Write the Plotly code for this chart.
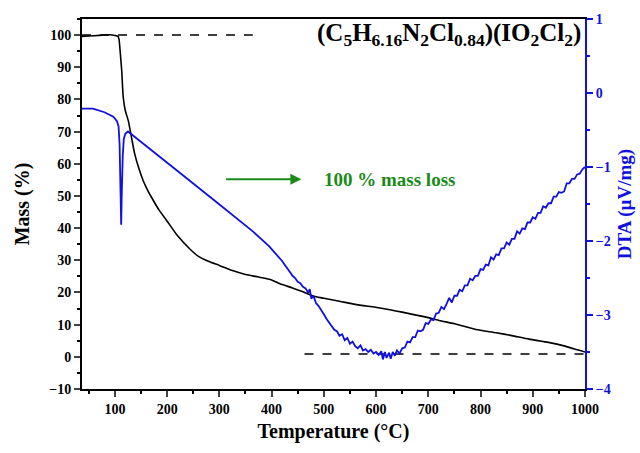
import plotly.graph_objects as go

# ---------------- data ----------------
temp_mass = [37, 50, 70, 90, 100, 106, 108, 110, 113, 116, 120, 125.6, 132, 138, 146, 154, 162,
             170, 185, 199, 220, 243, 260, 280, 300, 325, 350, 375, 400, 415, 440, 460, 479, 500,
             530, 560, 607, 650, 702, 721, 750, 791, 830, 860, 893, 930, 960, 980, 1000]
mass = [99.6, 99.7, 99.9, 100.1, 99.9, 99.6, 98.5, 95, 89, 80.6, 76.5, 73.4, 68, 63, 58.5, 54.8, 52,
        49.6, 45.5, 42.4, 37.6, 33.6, 31.2, 29.6, 28.4, 26.8, 25.6, 24.8, 23.9, 22.8, 21.4, 20.2, 18.9, 18.2,
        17.3, 16.3, 15.2, 13.9, 12.1, 11.3, 10.3, 8.5, 7.5, 6.6, 5.5, 4.5, 3.4, 2.4, 1.5]

temp_dta = [37, 58, 80, 97, 104, 107, 109, 110.5, 112, 113, 113.5, 114, 115, 117, 120, 125, 160,
            223, 299, 364, 395, 420, 435,
            440, 445, 450, 455, 460, 465, 470, 473, 476, 480, 485, 490, 495, 500, 505, 510, 515, 520,
            525, 530, 535, 540, 545, 550, 555, 560, 565, 570, 575, 580, 585, 590, 595, 600, 605, 610,
            613, 617, 620, 625, 628, 632, 636, 640, 645,
            650, 655, 660, 665, 670, 675, 680, 685, 690, 695, 700, 705, 710, 715, 720, 725, 730, 735,
            740, 745, 750, 755, 760, 765, 770, 775, 780, 785, 790, 795, 800, 805, 810, 815, 820, 825,
            830, 835, 840, 845, 850, 855, 860, 865, 870, 875, 880, 885, 890, 895, 900, 905, 910, 915,
            920, 925, 930, 935, 940, 945, 950, 955, 960, 965, 970, 975, 980, 985, 990, 995, 1000]
dta = [-0.21, -0.21, -0.26, -0.32, -0.38, -0.45, -0.7, -1.3, -1.78, -1.4, -1.1, -1.25, -0.85, -0.62,
       -0.55, -0.52, -0.72, -1.07, -1.50, -1.87, -2.07, -2.27, -2.42,
       -2.47, -2.50, -2.55, -2.57, -2.62, -2.64, -2.70, -2.65, -2.78, -2.74, -2.84, -2.88, -2.93, -2.99,
       -3.05, -3.10, -3.14, -3.20, -3.22, -3.28, -3.26, -3.34, -3.31, -3.39, -3.36, -3.42, -3.45, -3.41,
       -3.48, -3.46, -3.50, -3.47, -3.52, -3.50, -3.54, -3.49, -3.60, -3.50, -3.58, -3.51, -3.59, -3.50,
       -3.55, -3.48, -3.52,
       -3.45, -3.44, -3.36, -3.37, -3.30, -3.30, -3.21, -3.22, -3.20, -3.11, -3.12, -3.06, -3.07, -2.98,
       -2.97, -2.89, -2.92, -2.85, -2.77, -2.83, -2.74, -2.74, -2.66, -2.68, -2.60, -2.60, -2.51, -2.53,
       -2.47, -2.47, -2.38, -2.39, -2.32, -2.33, -2.22, -2.25, -2.18, -2.19, -2.10, -2.10, -2.02, -2.05,
       -1.97, -1.97, -1.87, -1.90, -1.83, -1.84, -1.75, -1.75, -1.68, -1.70, -1.62, -1.62, -1.53, -1.55,
       -1.49, -1.49, -1.40, -1.40, -1.34, -1.35, -1.33, -1.22, -1.22, -1.16, -1.16, -1.10, -1.09, -1.03,
       -1.00]

dash_top_x = [37, 364]
dash_top_y = [100, 100]
dash_bottom_x = [463, 1000]
dash_bottom_y = [0.9, 0.9]

x_ticks = [100, 200, 300, 400, 500, 600, 700, 800, 900, 1000]
mass_ticks = [-10, 0, 10, 20, 30, 40, 50, 60, 70, 80, 90, 100]
dta_ticks = [-4, -3, -2, -1, 0, 1]

formula = "<b>(C<sub>5</sub>H<sub>6.16</sub>N<sub>2</sub>Cl<sub>0.84</sub>)(IO<sub>2</sub>Cl<sub>2</sub>)</b>"
loss_text = "<b>100 % mass loss</b>"

# ---------------- figure ----------------
SERIF = "Liberation Serif, Times New Roman, serif"
BLUE = "#1010e0"
GREEN = "#1a8a1a"

fig = go.Figure()
fig.add_trace(go.Scatter(x=dash_top_x, y=dash_top_y, mode="lines",
                         line=dict(color="black", width=1.5, dash="dash"), showlegend=False))
fig.add_trace(go.Scatter(x=dash_bottom_x, y=dash_bottom_y, mode="lines",
                         line=dict(color="black", width=1.5, dash="dash"), showlegend=False))
fig.add_trace(go.Scatter(x=temp_mass, y=mass, mode="lines",
                         line=dict(color="black", width=1.6, shape="spline", smoothing=0.6),
                         showlegend=False))
fig.add_trace(go.Scatter(x=temp_dta, y=dta, mode="lines", yaxis="y2",
                         line=dict(color=BLUE, width=1.8), showlegend=False))

tickfont = dict(family=SERIF, size=14, color="black", weight="bold")

fig.update_layout(
    width=640, height=453,
    margin=dict(l=82, r=55, t=19, b=64, autoexpand=False),
    paper_bgcolor="white", plot_bgcolor="white",
    xaxis=dict(range=[37, 1000], tickvals=x_ticks, ticks="outside", ticklen=6, tickwidth=1.5,
               showline=True, linecolor="black", linewidth=2, mirror=True, showgrid=False,
               zeroline=False, tickfont=tickfont,
               minor=dict(dtick=50, tick0=0, ticks="outside", ticklen=3, tickwidth=1.5, tickcolor="black"),
               title=dict(text="<b>Temperature (°C)</b>", font=dict(family=SERIF, size=20, color="black"),
                          standoff=8)),
    yaxis=dict(range=[-10, 105], tickvals=mass_ticks, ticks="outside", ticklen=6, tickwidth=1.5,
               showline=True, linecolor="black", linewidth=2, showgrid=False, zeroline=False,
               tickfont=tickfont,
               minor=dict(dtick=5, tick0=0, ticks="outside", ticklen=3, tickwidth=1.5, tickcolor="black"),
               title=dict(text="<b>Mass (%)</b>", font=dict(family=SERIF, size=20, color="black"),
                          standoff=14)),
    yaxis2=dict(range=[-4, 1], overlaying="y", side="right", tickvals=dta_ticks, ticks="outside",
                ticklen=6, tickwidth=1.5, tickcolor=BLUE,
                showline=True, linecolor=BLUE, linewidth=2, showgrid=False, zeroline=False,
                tickfont=dict(family=SERIF, size=14, color=BLUE, weight="bold"),
                minor=dict(dtick=0.5, tick0=0, ticks="outside", ticklen=3, tickwidth=1.5, tickcolor=BLUE),
                title=dict(text="<b>DTA (µV/mg)</b>", font=dict(family=SERIF, size=19, color=BLUE),
                           standoff=8)),
)

fig.add_annotation(x=1000, y=100.3, xref="x", yref="y", text=formula, showarrow=False,
                   xanchor="right", yanchor="middle", xshift=-2,
                   font=dict(family=SERIF, size=25, color="black"))
fig.add_annotation(x=457, y=55.2, ax=310, ay=55.2, xref="x", yref="y", axref="x", ayref="y",
                   text="", showarrow=True, arrowhead=2, arrowsize=1, arrowwidth=2.2, arrowcolor=GREEN)
fig.add_annotation(x=496, y=55.2, xref="x", yref="y", text=loss_text, showarrow=False,
                   xanchor="left", yanchor="middle",
                   font=dict(family=SERIF, size=19, color=GREEN))

fig.write_html("out.html", config={"displayModeBar": False},
               post_script="document.body.style.margin='0';")
